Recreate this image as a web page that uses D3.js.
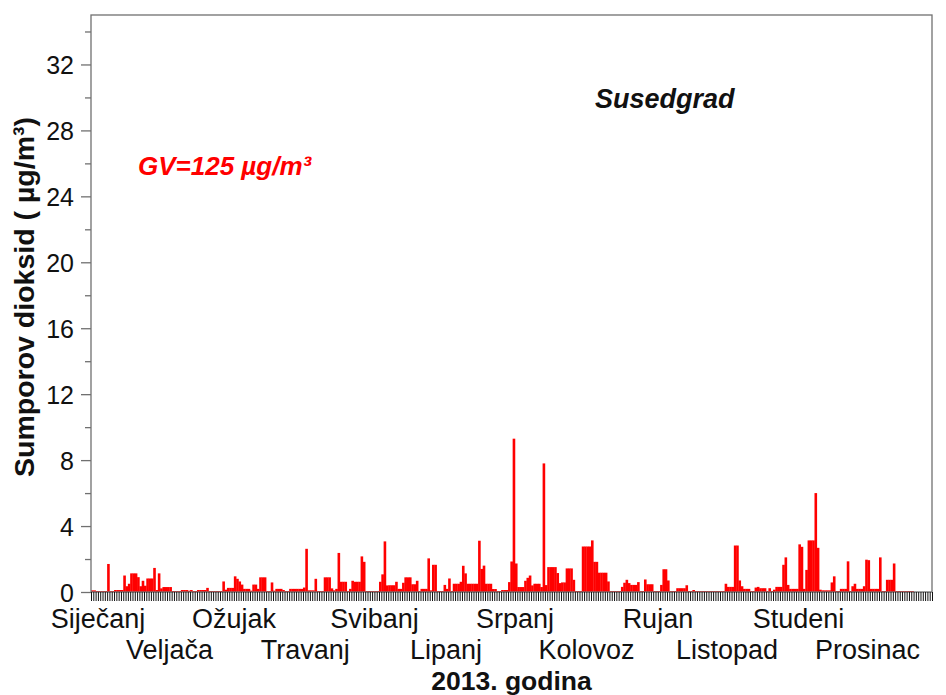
<!DOCTYPE html>
<html>
<head>
<meta charset="utf-8">
<script src="https://cdn.jsdelivr.net/npm/d3@7"></script>
<style>
  body { margin: 0; background: #fff; }
  svg { font-family: "Liberation Sans", Arial, sans-serif; }
</style>
</head>
<body>
<div id="chart"></div>
<script>
// daily SO2 values for 2013, one array per month (µg/m³)
var jan = [0.1,0.1,0.06,0.06,0.06,0.06,0.06,1.7,0.06,0.06,0.12,0.12,0.12,0.12,1.0,0.35,0.5,1.13,1.13,1.13,0.9,0.35,0.68,0.38,0.82,0.82,0.82,1.46,0.12,1.13,0.22];
var feb = [0.3,0.3,0.3,0.3,0.06,0.06,0.06,0.06,0.12,0.12,0.12,0.08,0.12,0.06,0.06,0.12,0.12,0.12,0.12,0.25,0.06,0.06,0.06,0.06,0.06,0.06,0.64,0.14];
var mar = [0.25,0.25,0.25,0.95,0.8,0.64,0.45,0.19,0.19,0.19,0.08,0.45,0.45,0.19,0.89,0.89,0.89,0.06,0.06,0.58,0.08,0.19,0.19,0.19,0.12,0.06,0.06,0.19,0.19,0.19,0.19];
var apr = [0.19,0.19,0.27,2.62,0.1,0.1,0.1,0.8,0.06,0.06,0.06,0.89,0.89,0.89,0.22,0.1,0.19,2.37,0.62,0.62,0.62,0.06,0.19,0.68,0.62,0.62,0.62,2.16,1.83,0.06];
var may = [0.06,0.06,0.06,0.06,0.06,0.62,1.07,3.07,0.4,0.41,0.41,0.41,0.62,0.19,0.19,0.56,0.89,0.89,0.89,0.47,0.47,0.68,0.06,0.19,0.19,0.19,2.04,0.1,1.65,1.65,0.06];
var jun = [0.06,0.06,0.43,0.19,0.82,0.06,0.5,0.5,0.5,0.62,1.59,1.13,0.5,0.5,0.5,0.5,0.5,3.11,1.4,1.6,0.5,0.5,0.5,0.18,0.18,0.06,0.06,0.12,0.12,0.12];
var jul = [0.6,1.85,9.3,1.73,0.3,0.3,0.3,0.68,0.86,1.0,0.4,0.5,0.5,0.5,0.3,7.8,0.42,1.51,1.51,1.51,1.51,1.15,0.54,0.58,0.58,1.43,1.43,1.43,0.74,0.06,0.06];
var aug = [0.06,2.76,2.76,2.76,2.76,3.13,1.83,1.83,1.17,1.17,1.17,1.17,0.64,0.06,0.06,0.06,0.06,0.06,0.31,0.56,0.74,0.54,0.43,0.43,0.43,0.6,0.06,0.06,0.76,0.47,0.47];
var sep = [0.47,0.06,0.06,0.06,0.43,1.38,1.38,0.7,0.06,0.06,0.06,0.23,0.23,0.23,0.23,0.41,0.06,0.06,0.12,0.06,0.06,0.06,0.06,0.06,0.06,0.06,0.06,0.06,0.06,0.06];
var oct = [0.06,0.06,0.5,0.31,0.31,0.31,2.82,2.82,0.7,0.35,0.19,0.19,0.19,0.06,0.06,0.27,0.31,0.23,0.23,0.23,0.06,0.23,0.06,0.14,0.31,0.31,0.31,1.65,2.1,0.43,0.19];
var nov = [0.19,0.19,0.19,2.89,2.74,0.19,1.34,3.13,3.13,3.13,6.0,2.68,0.14,0.1,0.1,0.1,0.1,0.58,0.95,0.06,0.06,0.19,0.19,0.19,1.86,0.06,0.35,0.5,0.19,0.19];
var dec = [0.19,0.35,1.96,1.93,0.19,0.19,0.19,0.19,2.1,0.06,0.06,0.74,0.74,0.74,1.73,0.06,0.06,0.06,0.06,0.06,0.06,0.06,0.06,0,0,0,0,0,0,0,0];

var monthNames = ["Siječanj","Veljača","Ožujak","Travanj","Svibanj","Lipanj",
                  "Srpanj","Kolovoz","Rujan","Listopad","Studeni","Prosinac"];
var yMajorTicks = [0,4,8,12,16,20,24,28,32];
var yMinorTicks = [2,6,10,14,18,22,26,30,34];

var months = [jan,feb,mar,apr,may,jun,jul,aug,sep,oct,nov,dec];
var values = [].concat.apply([], months);

// month start day index
var monthStart = [];
var acc = 0;
months.forEach(function(m) { monthStart.push(acc); acc += m.length; });

var svgWidth = 946;
var svgHeight = 695;
var plot = { left: 91, right: 932, top: 15, bottom: 592 };

var svg = d3.select("#chart")
  .append("svg")
  .attr("width", svgWidth)
  .attr("height", svgHeight);

var x = d3.scaleBand()
  .domain(d3.range(values.length))
  .range([plot.left, plot.right])
  .padding(0);

var xDay = d3.scaleLinear()
  .domain([0, values.length])
  .range([plot.left, plot.right]);

var y = d3.scaleLinear()
  .domain([0, 35])
  .range([plot.bottom, plot.top]);

// bars
svg.append("g")
  .selectAll("rect")
  .data(values)
  .enter()
  .append("rect")
  .attr("x", (d, i) => x(i))
  .attr("y", d => y(d))
  .attr("width", x.bandwidth() + 0.3)
  .attr("height", d => y(0) - y(d))
  .attr("fill", "#ff0000");

// frame
svg.append("rect")
  .attr("x", plot.left)
  .attr("y", plot.top)
  .attr("width", plot.right - plot.left)
  .attr("height", plot.bottom - plot.top)
  .attr("fill", "none")
  .attr("stroke", "#707070")
  .attr("stroke-width", 1.3);

// y axis
var yAxis = svg.append("g")
  .attr("transform", `translate(${plot.left},0)`)
  .call(d3.axisLeft(y).tickValues(yMajorTicks).tickSize(10).tickPadding(7));
yAxis.select(".domain").remove();
yAxis.selectAll(".tick line").attr("stroke", "#707070").attr("stroke-width", 1.3);
yAxis.selectAll("text")
  .style("font-size", "25px")
  .style("font-family", "Liberation Sans, Arial, sans-serif")
  .attr("fill", "#111")
  .attr("dy", "0.36em");

var yMinor = svg.append("g")
  .attr("transform", `translate(${plot.left},0)`)
  .call(d3.axisLeft(y).tickValues(yMinorTicks).tickSize(6).tickFormat(""));
yMinor.select(".domain").remove();
yMinor.selectAll(".tick line").attr("stroke", "#707070").attr("stroke-width", 1.3);

// x axis: a tick per day
var xAxis = svg.append("g")
  .attr("transform", `translate(0,${plot.bottom})`)
  .call(d3.axisBottom(xDay).tickValues(d3.range(values.length + 1)).tickSize(9).tickFormat(""));
xAxis.select(".domain").remove();
xAxis.selectAll(".tick line").attr("stroke", "#111").attr("stroke-width", 1);

// month labels on two rows
svg.append("g")
  .selectAll("text")
  .data(monthNames)
  .enter()
  .append("text")
  .attr("x", (d, i) => xDay(monthStart[i]) + 7)
  .attr("y", (d, i) => i % 2 === 0 ? 628 : 659)
  .attr("text-anchor", "middle")
  .style("font-size", "27px")
  .attr("fill", "#111")
  .text(d => d);

// axis titles
svg.append("text")
  .attr("transform", "rotate(-90)")
  .attr("x", -297)
  .attr("y", 34)
  .attr("text-anchor", "middle")
  .style("font-size", "28.5px")
  .style("font-weight", "bold")
  .attr("fill", "#111")
  .text("Sumporov dioksid ( µg/m³)");

svg.append("text")
  .attr("x", (plot.left + plot.right) / 2)
  .attr("y", 690)
  .attr("text-anchor", "middle")
  .style("font-size", "26.5px")
  .style("font-weight", "bold")
  .attr("fill", "#111")
  .text("2013. godina");

// annotations
svg.append("text")
  .attr("x", 595)
  .attr("y", 108)
  .style("font-size", "27px")
  .style("font-weight", "bold")
  .style("font-style", "italic")
  .attr("fill", "#111")
  .text("Susedgrad");

svg.append("text")
  .attr("x", 138)
  .attr("y", 175)
  .style("font-size", "26px")
  .style("font-weight", "bold")
  .style("font-style", "italic")
  .attr("fill", "#ff0000")
  .text("GV=125 µg/m³");
</script>
</body>
</html>
